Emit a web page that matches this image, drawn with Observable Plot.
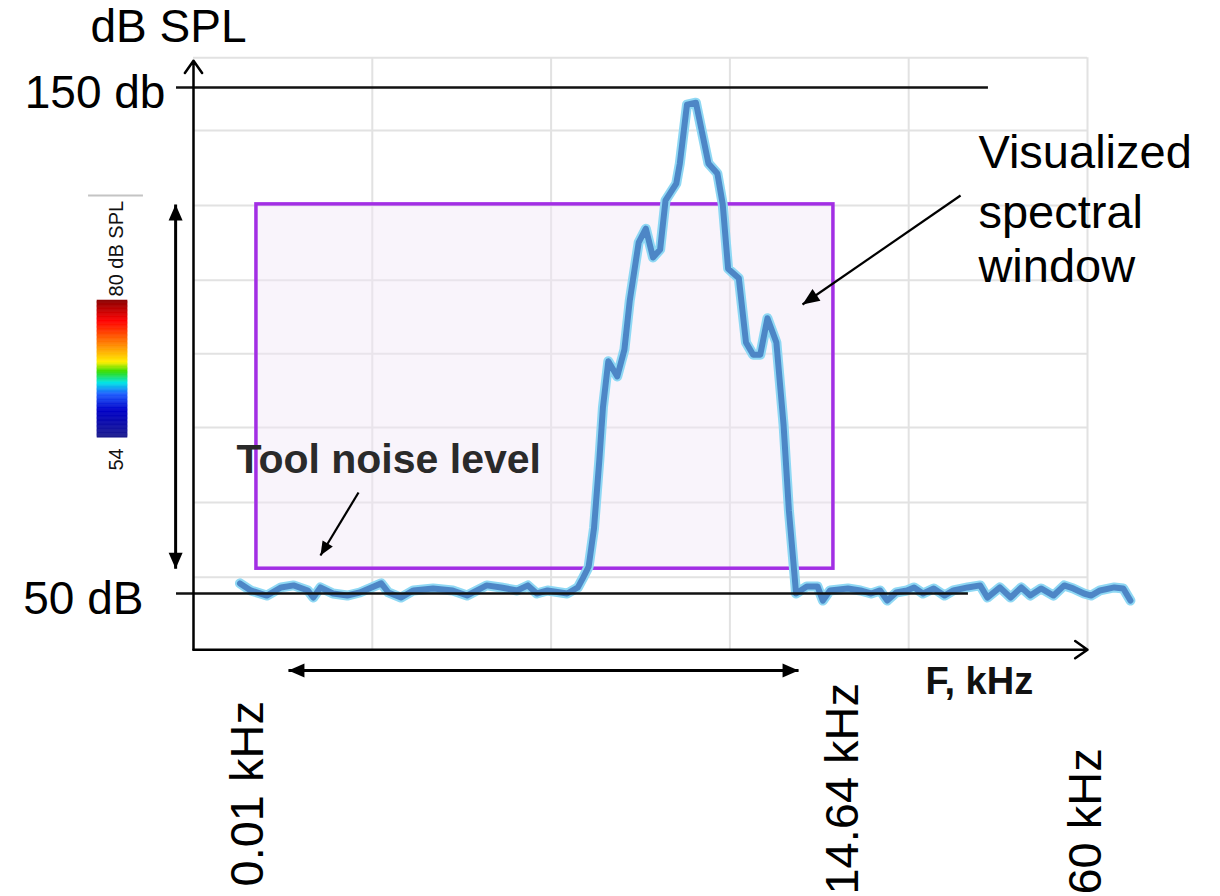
<!DOCTYPE html>
<html><head><meta charset="utf-8">
<script src="https://cdn.jsdelivr.net/npm/d3@7"></script>
<script src="https://cdn.jsdelivr.net/npm/@observablehq/plot@0.6"></script>
<style>html,body{margin:0;padding:0;background:#fff;} #chart svg{display:block;}</style>
</head><body><div id="chart"></div>
<script>
// ---- spectrum (x in grid divisions of the analyser window, y in dB SPL)
const freq = [0.26,0.32,0.41,0.49,0.56,0.64,0.67,0.71,0.78,0.86,
  0.93,1.05,1.09,1.16,1.23,1.34,1.45,1.53,1.64,1.72,
  1.81,1.87,1.92,1.98,2.09,2.15,2.18,2.21,2.24,2.27,
  2.29,2.32,2.37,2.41,2.44,2.49,2.53,2.57,2.61,2.64,
  2.70,2.72,2.76,2.81,2.88,2.93,2.96,2.99,3.05,3.09,
  3.13,3.17,3.21,3.26,3.30,3.33,3.36,3.37,3.43,3.49,
  3.52,3.56,3.66,3.73,3.79,3.84,3.88,3.93,3.99,4.03,
  4.08,4.14,4.20,4.25,4.33,4.40,4.44,4.51,4.57,4.63,
  4.68,4.74,4.81,4.87,4.92,4.98,5.02,5.07,5.15,5.20,
  5.24];
const levels = [52.0,50.6,49.6,51.2,51.6,50.6,49.2,51.2,50.0,49.6,
  50.2,52.0,50.2,49.2,50.6,51.0,50.6,49.6,51.6,51.2,
  50.6,51.6,50.0,50.6,50.0,51.2,53.2,55.3,62.9,76.5,
  86.8,95.9,92.9,98.2,107.9,119.4,122.1,116.4,118.0,127.7,
  131.0,135.0,146.6,147.0,135.0,133.0,126.9,114.2,112.3,99.6,
  97.2,97.2,104.4,99.6,83.4,66.4,54.2,50.0,51.4,51.4,
  48.6,50.6,51.0,50.6,50.0,50.6,48.6,50.2,50.6,51.2,
  50.0,51.0,49.6,50.6,51.2,51.6,49.2,51.2,49.2,51.2,
  49.6,51.0,49.6,51.6,51.0,50.0,49.6,50.6,51.2,51.0,
  48.6];

// ---- background grid of the analyser picture
const gridX = [1, 2, 3, 4, 5];
const gridY = [53.2, 68.0, 82.8, 97.4, 111.9, 126.7, 141.5, 155.9];
const gridXExtent = [0, 5];
const gridYExtent = [38.9, 155.9];

// ---- reference levels
const refLevels = [
  {label: "150 db", db: 150, x1: -0.095, x2: 4.446, tx: -0.157, ty: 146.0},
  {label: "50 dB", db: 50, x1: -0.095, x2: 4.334, tx: -0.280, ty: 46.0}
];

// ---- axes
const axisArrows = [
  {x1: 0, y1: 38.9, x2: 0, y2: 155.3},
  {x1: 0, y1: 38.9, x2: 5.0, y2: 38.9}
];
const axisTitles = [{text: "dB SPL", x: -0.14, y: 158.9}];
const xTitle = [{text: "F, kHz", x: 4.094, y: 30.2}];

// ---- visualized spectral window
const windowBox = [{x1: 0.352, x2: 3.579, y1: 54.9, y2: 126.9}];
const spanArrows = [
  {x1: -0.10, y1: 54.9, x2: -0.10, y2: 126.9},
  {x1: 0.531, y1: 34.8, x2: 3.384, y2: 34.8}
];
const callouts = [
  {x1: 4.290, y1: 128.66, x2: 3.406, y2: 107.11, len: 17, half: 7},
  {x1: 0.923, y1: 69.96, x2: 0.710, y2: 57.51, len: 14, half: 6}
];
const windowNote = [
  {text: "Visualized", x: 4.390, y: 134.0},
  {text: "spectral", x: 4.390, y: 122.3},
  {text: "window", x: 4.390, y: 111.5}
];
const noiseNote = [{text: "Tool noise level", x: 0.240, y: 73.9}];

// ---- frequency labels
const freqLabels = [
  {text: "0.01 kHz", x: 0.386, y: -7.9},
  {text: "14.64 kHz", x: 3.719, y: -9.5},
  {text: "60 kHz", x: 5.078, y: -9.5}
];

// ---- colour bar legend
const colorbarBox = {x1: -0.537, x2: -0.369, yBottom: 80.8, yTop: 107.9};
const colorbarDomain = [54, 80];
const colorStopValues = [80, 76.1, 71.4, 68.3, 66.5, 64.4, 62.3, 59.2, 54];
const colorStopColors = ["#8b0000","#ff0000","#ff8c00","#ffee00","#33dd00","#00e5e5","#2060ff","#0000c8","#1c1c8c"];
const colorbarLabels = [
  {text: "80 dB SPL", x: -0.397, y: 108.7},
  {text: "54", x: -0.397, y: 74.3}
];
const colorbarRule = [{x1: -0.587, x2: -0.280, y: 128.66}];

// ---- layout
const xRange = [193, 1087];
const yRange = [593, 87];
const xDomain = [0, 5];
const yDomain = [50, 150];
const FONT = "Liberation Sans, Arial, Helvetica, sans-serif";

const spectrum = freq.map((f, i) => ({f, db: levels[i]}));

const rampColor = d3.scaleLinear().domain(colorStopValues).range(colorStopColors).interpolate(d3.interpolateRgb);
const rampPos = d3.scaleLinear().domain(colorbarDomain).range([colorbarBox.yBottom, colorbarBox.yTop]);
const rampStep = 0.25;
const ramp = d3.range(colorbarDomain[0], colorbarDomain[1], rampStep).map(v => ({v, c: rampColor(v + rampStep / 2)}));

// pixel per unit, used only to orient arrow heads
const pxX = (xRange[1] - xRange[0]) / (xDomain[1] - xDomain[0]);
const pxY = (yRange[1] - yRange[0]) / (yDomain[1] - yDomain[0]);

function headSymbol(angleDeg, len, half) {
  const t = angleDeg * Math.PI / 180, c = Math.cos(t), s = Math.sin(t);
  const rot = (x, y) => [x * c - y * s, x * s + y * c];
  return {draw(ctx) {
    const a = rot(0, 0), b = rot(half, len), d = rot(-half, len);
    ctx.moveTo(a[0], a[1]); ctx.lineTo(b[0], b[1]); ctx.lineTo(d[0], d[1]); ctx.closePath();
  }};
}
function angleOf(x1, y1, x2, y2) {
  const dx = (x2 - x1) * pxX, dy = (y2 - y1) * pxY;
  return Math.atan2(dx, -dy) * 180 / Math.PI;
}
function head(x, y, angle, len, half) {
  return Plot.dot([{x, y}], {x: "x", y: "y", r: 5, symbol: headSymbol(angle, len, half), fill: "#000", stroke: "none"});
}

const heads = [];
for (const a of spanArrows) {
  heads.push(head(a.x1, a.y1, angleOf(a.x2, a.y2, a.x1, a.y1), 16, 7));
  heads.push(head(a.x2, a.y2, angleOf(a.x1, a.y1, a.x2, a.y2), 16, 7));
}
for (const a of callouts) {
  heads.push(head(a.x2, a.y2, angleOf(a.x1, a.y1, a.x2, a.y2), a.len, a.half));
}

const chart = Plot.plot({
  width: 1220, height: 896,
  marginTop: 0, marginRight: 0, marginBottom: 0, marginLeft: 0,
  x: {domain: xDomain, range: xRange, axis: null},
  y: {domain: yDomain, range: yRange, axis: null},
  color: {type: "identity"},
  style: {background: "#fff", fontFamily: FONT},
  marks: [
    Plot.ruleX(gridX, {x: d => d, y1: () => gridYExtent[0], y2: () => gridYExtent[1], stroke: "#e2e2e2", strokeWidth: 2}),
    Plot.ruleY(gridY, {y: d => d, x1: () => gridXExtent[0], x2: () => gridXExtent[1], stroke: "#e2e2e2", strokeWidth: 2}),
    Plot.rect(windowBox, {x1: "x1", x2: "x2", y1: "y1", y2: "y2", fill: "#f1e6f7", fillOpacity: 0.45}),
    Plot.rect(windowBox, {x1: "x1", x2: "x2", y1: "y1", y2: "y2", fill: "none", stroke: "#a22ee4", strokeWidth: 3.5}),
    Plot.line(spectrum, {x: "f", y: "db", stroke: "#8fd8f4", strokeWidth: 10, strokeLinejoin: "round", strokeLinecap: "round"}),
    Plot.line(spectrum, {x: "f", y: "db", stroke: "#4d86c6", strokeWidth: 6, strokeLinejoin: "round", strokeLinecap: "round"}),
    Plot.ruleY(refLevels, {y: "db", x1: "x1", x2: "x2", stroke: "#111", strokeWidth: 2.5}),
    Plot.arrow(axisArrows, {x1: "x1", y1: "y1", x2: "x2", y2: "y2", stroke: "#000", strokeWidth: 2.5, headLength: 9, headAngle: 70}),
    Plot.link(spanArrows, {x1: "x1", y1: "y1", x2: "x2", y2: "y2", stroke: "#000", strokeWidth: 3}),
    Plot.link(callouts, {x1: "x1", y1: "y1", x2: "x2", y2: "y2", stroke: "#000", strokeWidth: 2.2}),
    ...heads,
    // colour bar
    Plot.rect(ramp, {x1: () => colorbarBox.x1, x2: () => colorbarBox.x2, y1: d => rampPos(d.v), y2: d => rampPos(d.v + rampStep), fill: "c", stroke: "c", strokeWidth: 0.6}),
    Plot.ruleY(colorbarRule, {y: "y", x1: "x1", x2: "x2", stroke: "#c4c4c4", strokeWidth: 2}),
    Plot.text(colorbarLabels, {x: "x", y: "y", text: "text", rotate: -90, textAnchor: "start", lineAnchor: "bottom", fontSize: 20, fill: "#111"}),
    // texts
    Plot.text(axisTitles, {x: "x", y: "y", text: "text", textAnchor: "middle", lineAnchor: "bottom", fontSize: 46, fill: "#000"}),
    Plot.text(refLevels, {x: "tx", y: "ty", text: "label", textAnchor: "end", lineAnchor: "bottom", fontSize: 46, fill: "#000"}),
    Plot.text(windowNote, {x: "x", y: "y", text: "text", textAnchor: "start", lineAnchor: "bottom", fontSize: 47, fill: "#000"}),
    Plot.text(noiseNote, {x: "x", y: "y", text: "text", textAnchor: "start", lineAnchor: "bottom", fontSize: 41, fontWeight: "bold", fill: "#2a2a2a"}),
    Plot.text(xTitle, {x: "x", y: "y", text: "text", textAnchor: "start", lineAnchor: "bottom", fontSize: 38, fontWeight: "bold", fill: "#111"}),
    Plot.text(freqLabels, {x: "x", y: "y", text: "text", rotate: -90, textAnchor: "start", lineAnchor: "bottom", fontSize: 47, fill: "#000"})
  ]
});
document.getElementById("chart").appendChild(chart);
</script></body></html>
